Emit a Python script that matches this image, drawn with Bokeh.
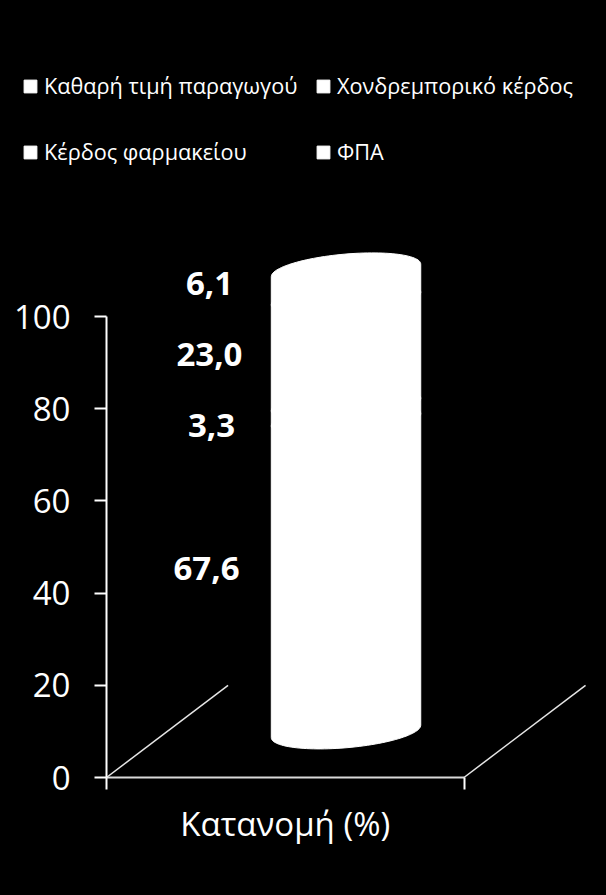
import numpy as np
from bokeh.plotting import figure
from bokeh.models import ColumnDataSource, FixedTicker, Legend, LegendItem, LinearAxis, Range1d
from bokeh.core.properties import value
from bokeh.embed import file_html
from bokeh.resources import INLINE

series = ["Καθαρή τιμή παραγωγού", "Χονδρεμπορικό κέρδος", "Κέρδος φαρμακείου", "ΦΠΑ"]
values = [67.6, 3.3, 23.0, 6.1]
labels = ["67,6", "3,3", "23,0", "6,1"]
category = "Κατανομή (%)"
y_ticks = [0, 20, 40, 60, 80, 100]
legend_columns = [[0, 2], [1, 3]]

FONT = "Open Sans"
WHITE = "#ffffff"
W, H = 606, 895
LEFT, BOTTOM = 106, 118
X_UNIT = 357.5
Y_UNIT = 4.61
DEPTH_X, DEPTH_Y = 0.34, 20.0
HALF_W = 0.209
TILT, MINOR = 1.35, 3.55
LABEL_DY = [11.5, 7.15, 9.4, 10.25]
LABEL_DX = [-0.3903, -0.3763, -0.382, -0.382]
LEGEND_X = [22, 315]

p = figure(width=W, height=H, output_backend="svg", toolbar_location=None,
           x_range=Range1d(-LEFT / X_UNIT, (W - LEFT) / X_UNIT),
           y_range=Range1d(-BOTTOM / Y_UNIT, (H - BOTTOM) / Y_UNIT),
           x_axis_location=None, y_axis_location=None,
           background_fill_color="#000000", border_fill_color="#000000",
           outline_line_color=None,
           min_border=0)
p.grid.visible = False

# floor of the 3-D box
p.segment([0, 1], [0, 0], [DEPTH_X, 1 + DEPTH_X], [DEPTH_Y, DEPTH_Y],
          line_color="#e6e6e6", line_width=1.5)

# stacked cylinder
cx = 0.5 + DEPTH_X / 2
base = DEPTH_Y / 2
t_low = np.linspace(np.pi, 2 * np.pi, 60)
t_up = np.linspace(0, np.pi, 60)
renderers = []
bottom = 0.0
mids = []
for name, v in zip(series, values):
    top = bottom + v
    xs = np.concatenate([cx + HALF_W * np.cos(t_low), cx + HALF_W * np.cos(t_up)])
    ys = np.concatenate([base + bottom + TILT * np.cos(t_low) + MINOR * np.sin(t_low),
                         base + top + TILT * np.cos(t_up) + MINOR * np.sin(t_up)])
    r = p.patch(xs, ys, fill_color=WHITE, line_color=WHITE, line_width=1)
    renderers.append(r)
    mids.append(bottom + v / 2)
    bottom = top

# data labels
src = ColumnDataSource(dict(
    x=[cx + d for d in LABEL_DX],
    y=[m + d for m, d in zip(mids, LABEL_DY)],
    t=labels))
p.text("x", "y", text="t", source=src, text_color=WHITE, text_align="center",
       text_baseline="middle", text_font=value(FONT), text_font_style="bold",
       text_font_size="33px")

# axes
ya = LinearAxis(fixed_location=0, ticker=FixedTicker(ticks=y_ticks), bounds=(0, 100))
ya.axis_line_color = WHITE
ya.axis_line_width = 2
ya.major_tick_line_color = WHITE
ya.major_tick_line_width = 2
ya.major_tick_in = 0
ya.major_tick_out = 12
ya.minor_tick_line_color = None
ya.major_label_text_color = WHITE
ya.major_label_text_font = FONT
ya.major_label_text_font_size = "33px"
ya.major_label_standoff = 24
p.add_layout(ya, "left")

xa = LinearAxis(fixed_location=0, ticker=FixedTicker(ticks=[0.5], minor_ticks=[0, 1]), bounds=(0, 1))
xa.axis_line_color = "#d9d9d9"
xa.axis_line_width = 2
xa.major_tick_line_color = None
xa.major_tick_in = 0
xa.major_tick_out = 0
xa.minor_tick_line_color = WHITE
xa.minor_tick_line_width = 2
xa.minor_tick_in = 0
xa.minor_tick_out = 12
xa.major_label_overrides = {0.5: category}
xa.major_label_text_color = WHITE
xa.major_label_text_font = FONT
xa.major_label_text_font_size = "33px"
xa.major_label_standoff = 11
p.add_layout(xa, "below")

# legend: two independent columns, as the gaps across and down differ
for column, lx in zip(legend_columns, LEGEND_X):
    legend = Legend(items=[LegendItem(label=series[i], renderers=[renderers[i]]) for i in column],
                    location=(lx, 729),
                    background_fill_alpha=0, border_line_color=None,
                    glyph_width=16, glyph_height=16, label_standoff=6,
                    spacing=37, padding=0, margin=0,
                    label_text_color=WHITE, label_text_font=FONT,
                    label_text_font_size="21.7px")
    p.add_layout(legend, "center")

html = file_html(p, INLINE)
html = html.replace("<head>", "<head><style>html,body{background:#000000;margin:0;overflow:hidden;}</style>", 1)
open("out.html", "w").write(html)
